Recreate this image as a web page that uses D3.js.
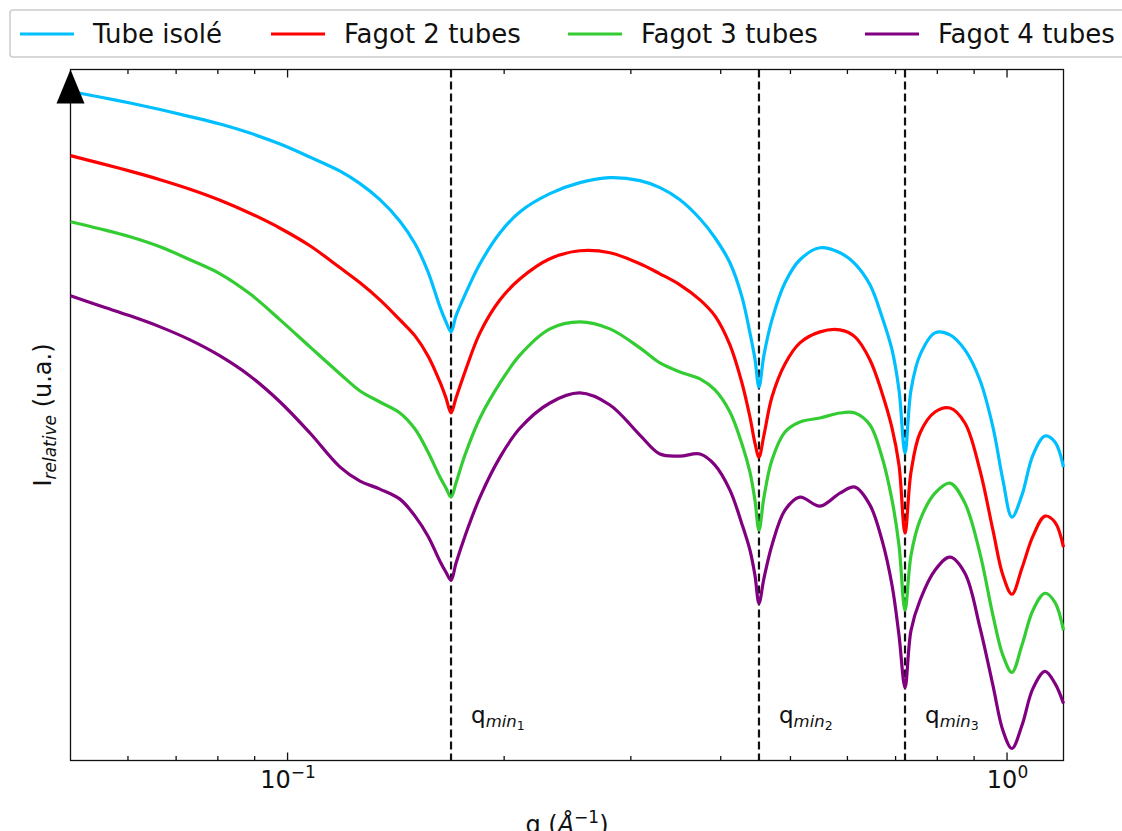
<!DOCTYPE html>
<html><head><meta charset="utf-8">
<script src="https://cdn.jsdelivr.net/npm/d3@7"></script>
<style>
body{margin:0;background:#fff;}
svg{display:block;font-family:"DejaVu Sans",sans-serif;}
</style>
</head><body>
<svg id="chart" width="1122" height="831"></svg>
<script>
// ---- data (q in Å^-1, intensity in arbitrary units) ----
const q = [0.05,0.0549,0.0605,0.0666,0.0733,0.0807,0.0888,0.0978,0.1076,0.1185,0.1263,0.1346,0.1435,0.1506,0.1570,0.1631,0.1663,0.1690,0.1717,0.1767,0.1854,0.1977,0.2108,0.2319,0.2553,0.2810,0.3093,0.3298,0.3516,0.3749,0.3933,0.4126,0.4288,0.4399,0.4470,0.4528,0.4601,0.4720,0.4921,0.5162,0.5505,0.5868,0.6157,0.6460,0.6713,0.6932,0.7088,0.7226,0.7366,0.7582,0.7953,0.8344,0.8753,0.9183,0.9574,0.9885,1.0174,1.0505,1.0882,1.1309,1.1677,1.2];
const tubeIsole = [6.68,6.625,6.565,6.50,6.43,6.355,6.265,6.155,6.025,5.885,5.76,5.60,5.385,5.16,4.88,4.53,4.38,4.28,4.44,4.65,4.96,5.27,5.48,5.66,5.77,5.82,5.79,5.72,5.60,5.41,5.22,4.97,4.63,4.27,4.01,3.73,4.05,4.40,4.77,5.00,5.12,5.07,4.96,4.75,4.43,4.10,3.70,3.07,3.70,4.05,4.27,4.25,4.10,3.80,3.33,2.80,2.43,2.65,3.05,3.24,3.18,2.93];
const fagot2 = [6.04,5.965,5.885,5.80,5.705,5.595,5.465,5.315,5.14,4.92,4.77,4.60,4.40,4.24,4.04,3.78,3.62,3.47,3.62,3.88,4.27,4.60,4.81,5.01,5.09,5.07,4.96,4.86,4.75,4.60,4.44,4.15,3.77,3.43,3.17,3.03,3.25,3.63,3.96,4.17,4.28,4.30,4.23,4.00,3.67,3.32,2.95,2.27,2.88,3.27,3.48,3.52,3.37,2.90,2.30,1.85,1.66,1.92,2.24,2.44,2.38,2.13];
const fagot3 = [5.38,5.31,5.23,5.13,5.00,4.86,4.66,4.40,4.13,3.86,3.69,3.58,3.47,3.31,3.08,2.83,2.72,2.63,2.77,3.05,3.42,3.77,4.05,4.31,4.38,4.31,4.12,3.97,3.88,3.81,3.70,3.48,3.16,2.88,2.60,2.30,2.63,3.00,3.28,3.38,3.42,3.47,3.47,3.35,3.03,2.60,2.15,1.50,2.05,2.40,2.67,2.77,2.57,2.07,1.45,1.05,0.88,1.15,1.50,1.67,1.58,1.30];
const fagot4 = [4.64,4.54,4.44,4.33,4.20,4.04,3.84,3.58,3.27,2.93,2.79,2.71,2.61,2.44,2.24,1.99,1.88,1.80,1.97,2.24,2.63,3.03,3.32,3.57,3.67,3.55,3.25,3.06,3.04,3.06,2.95,2.70,2.36,2.10,1.85,1.57,1.82,2.15,2.50,2.63,2.54,2.67,2.73,2.55,2.20,1.75,1.25,0.73,1.30,1.60,1.90,2.03,1.87,1.33,0.75,0.30,0.12,0.35,0.72,0.89,0.77,0.57];
const seriesNames = ["Tube isolé","Fagot 2 tubes","Fagot 3 tubes","Fagot 4 tubes"];
const seriesColors = ["#00bfff","#ff0000","#33cc33","#800080"];
const qMin = [0.169,0.4528,0.7226];
const qMinIndex = ["1","2","3"];
const xMajorTicks = [0.1,1];
const xMajorExp = ["−1","0"];
const xMinorTicks = [0.06,0.07,0.08,0.09,0.2,0.3,0.4,0.5,0.6,0.7,0.8,0.9];

// ---- layout ----
const L=70.5,R=1063.5,T=69.5,B=760.5;
const svg=d3.select("#chart");
const x=d3.scaleLog().domain([0.05,1.2]).range([L,R]);
const y=d3.scaleLinear().domain([0,6.9]).range([B,T]);

// axes (ticks pointing inward)
function ax(gen,ty){
  const g=svg.append("g").attr("transform",`translate(0,${ty})`);
  g.call(gen);
  g.selectAll(".domain").remove();
  g.selectAll("line").attr("stroke","#111").attr("stroke-width",1.3);
  g.selectAll("text").remove();
  return g;
}
ax(d3.axisBottom(x).tickValues(xMajorTicks).tickSize(-8).tickSizeOuter(0),B);
ax(d3.axisBottom(x).tickValues(xMinorTicks).tickSize(-4.5).tickSizeOuter(0),B);
ax(d3.axisTop(x).tickValues(xMajorTicks).tickSize(-8).tickSizeOuter(0),T);
ax(d3.axisTop(x).tickValues(xMinorTicks).tickSize(-4.5).tickSizeOuter(0),T);

// frame
svg.append("rect").attr("x",L).attr("y",T).attr("width",R-L).attr("height",B-T)
  .attr("fill","none").attr("stroke","#111").attr("stroke-width",1.3);

// tick labels
xMajorTicks.forEach((v,i)=>{
  const t=svg.append("text").attr("x",x(v)+1).attr("y",788).attr("text-anchor","middle")
    .attr("font-size",24).attr("fill","#111");
  t.append("tspan").text("10");
  t.append("tspan").attr("font-size",17).attr("dy",-10).text(xMajorExp[i]);
});

// vertical dashed lines
svg.selectAll(".qmin").data(qMin).join("line")
  .attr("x1",d=>x(d)).attr("x2",d=>x(d)).attr("y1",T).attr("y2",B)
  .attr("stroke","#111").attr("stroke-width",2.2).attr("stroke-dasharray","8,4");

// curves
const line=d3.line().x((d,i)=>x(q[i])).y(d=>y(d)).curve(d3.curveCatmullRom.alpha(0.5));
[tubeIsole,fagot2,fagot3,fagot4].forEach((s,k)=>{
  svg.append("path").attr("d",line(s)).attr("fill","none")
    .attr("stroke",seriesColors[k]).attr("stroke-width",3.2).attr("stroke-linejoin","round");
});

// q_min labels
qMin.forEach((v,i)=>{
  const t=svg.append("text").attr("x",x(v)+20).attr("y",723).attr("font-size",23).attr("fill","#111");
  t.append("tspan").text("q");
  t.append("tspan").attr("font-size",16.5).attr("font-style","italic").attr("dy",4).text("min");
  t.append("tspan").attr("font-size",12.5).attr("dy",3).text(qMinIndex[i]);
});

// arrow on y axis
svg.append("path").attr("d",`M${L},${T} L${L-14},${T+34} L${L+14},${T+34} Z`).attr("fill","#000");

// axis titles
const xt=svg.append("text").attr("x",(L+R)/2).attr("y",833).attr("text-anchor","middle")
  .attr("font-size",24).attr("fill","#111");
xt.append("tspan").text("q (");
xt.append("tspan").attr("font-style","italic").text("Å");
xt.append("tspan").attr("font-size",17).attr("dy",-10).text("−1");
xt.append("tspan").attr("dy",10).text(")");

const yt=svg.append("text").attr("transform",`translate(51,${(T+B)/2}) rotate(-90)`)
  .attr("text-anchor","middle").attr("font-size",24).attr("fill","#111");
yt.append("tspan").text("I");
yt.append("tspan").attr("font-size",17).attr("font-style","italic").attr("dy",5).text("relative");
yt.append("tspan").attr("dy",-5).text(" (u.a.)");

// legend
svg.append("rect").attr("x",10).attr("y",10).attr("width",1130).attr("height",47).attr("rx",3)
  .attr("fill","#fff").attr("stroke","#cccccc").attr("stroke-width",1.5);
const legX=[20,271,568,865];
seriesNames.forEach((n,k)=>{
  svg.append("line").attr("x1",legX[k]).attr("x2",legX[k]+54).attr("y1",34).attr("y2",34)
    .attr("stroke",seriesColors[k]).attr("stroke-width",3);
  svg.append("text").attr("x",legX[k]+73).attr("y",43).attr("font-size",26).attr("fill","#111").text(n);
});
</script>
</body></html>
